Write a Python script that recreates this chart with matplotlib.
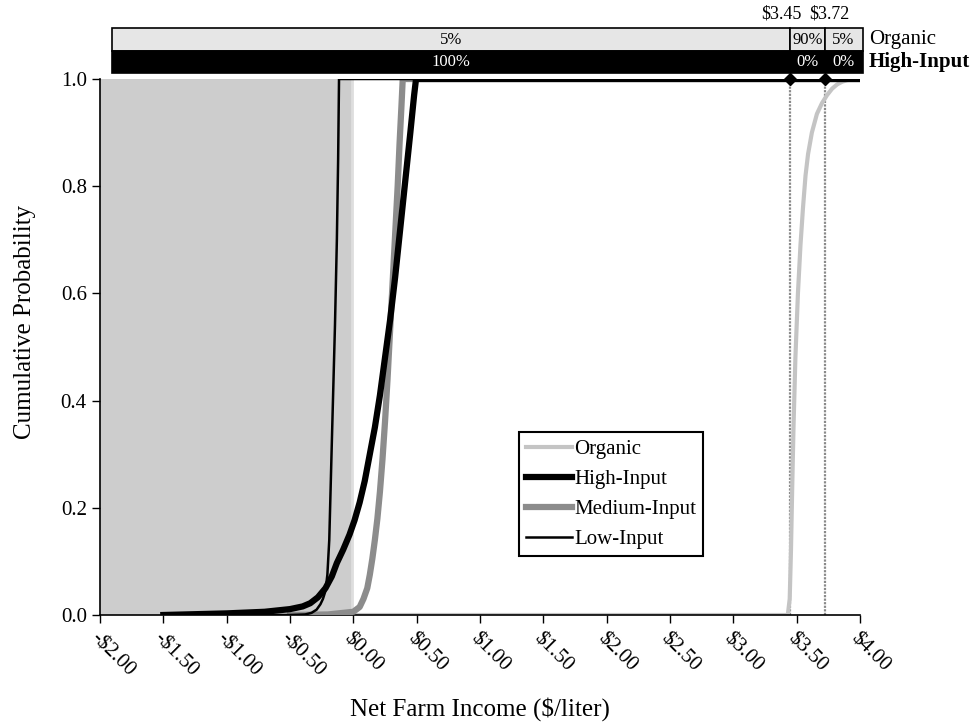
import matplotlib
matplotlib.use("Agg")
import matplotlib.pyplot as plt
from matplotlib.patches import Rectangle
from matplotlib.ticker import FuncFormatter

plt.rcParams['font.family'] = ['Liberation Serif', 'DejaVu Serif']

# cumulative distributions of net farm income ($/liter)
organic_x = [0.0, 3.43, 3.445, 3.455, 3.465, 3.475, 3.49, 3.51, 3.53, 3.55, 3.57, 3.59, 3.62, 3.66,
             3.70, 3.74, 3.78, 3.82, 3.86, 3.90, 4.0]
organic_y = [0.0, 0.0, 0.03, 0.12, 0.24, 0.35, 0.48, 0.6, 0.69, 0.76, 0.82, 0.86, 0.9, 0.935,
             0.955, 0.97, 0.982, 0.99, 0.995, 0.998, 1.0]

high_x = [-1.5, -1.0, -0.7, -0.5, -0.4, -0.34, -0.28, -0.22, -0.17, -0.13, -0.08, -0.03, 0.01, 0.05,
          0.09, 0.13, 0.17, 0.21, 0.25, 0.29, 0.33, 0.37, 0.41, 0.45, 0.48, 0.495, 4.0]
high_y = [0.0, 0.003, 0.006, 0.011, 0.016, 0.022, 0.033, 0.05, 0.072, 0.097, 0.122, 0.15, 0.177, 0.21,
          0.25, 0.3, 0.35, 0.41, 0.48, 0.55, 0.63, 0.72, 0.81, 0.9, 0.97, 1.0, 1.0]

medium_x = [-0.5, -0.2, 0.0, 0.05, 0.08, 0.11, 0.13, 0.15, 0.17, 0.19, 0.21, 0.23, 0.25, 0.27, 0.29,
            0.31, 0.33, 0.35, 0.365, 0.38, 0.39, 4.0]
medium_y = [0.0, 0.001, 0.006, 0.015, 0.03, 0.05, 0.075, 0.105, 0.14, 0.18, 0.23, 0.29, 0.36, 0.44, 0.53,
            0.62, 0.71, 0.8, 0.88, 0.95, 1.0, 1.0]

low_x = [-1.5, -0.5, -0.38, -0.33, -0.29, -0.26, -0.24, -0.22, -0.205, -0.19, -0.17, -0.145, -0.13,
         -0.12, -0.113, 4.0]
low_y = [0.0, 0.0, 0.001, 0.004, 0.01, 0.02, 0.03, 0.045, 0.075, 0.14, 0.32, 0.54, 0.7, 0.85, 1.0, 1.0]

# stoplight cut-offs and probabilities
cuts = [3.45, 3.72]
organic_pct = ["5%", "90%", "5%"]
high_pct = ["100%", "0%", "0%"]

xticks = [-2.0, -1.5, -1.0, -0.5, 0.0, 0.5, 1.0, 1.5, 2.0, 2.5, 3.0, 3.5, 4.0]
yticks = [0.0, 0.2, 0.4, 0.6, 0.8, 1.0]

fig = plt.figure(figsize=(9.73, 7.22), dpi=100)
ax = fig.add_axes([100/973, 1-615/722, 760/973, 536/722])

# shaded loss region
ax.add_patch(Rectangle((-2.0, 0.0), 2.0, 1.0, facecolor='#cdcdcd', edgecolor='none', zorder=0))
ax.axvline(-0.01, 0, 1, color='#dedede', lw=2, zorder=0.5)

for c in cuts:
    ax.plot([c, c], [0, 1], color='#8a8a8a', lw=1.6, ls=(0, (1, 0.6)), zorder=1)

l_org, = ax.plot(organic_x, organic_y, color='#c4c4c4', lw=3, zorder=2, label='Organic')
l_med, = ax.plot(medium_x, medium_y, color='#8c8c8c', lw=4.5, zorder=3, label='Medium-Input')
l_high, = ax.plot(high_x, high_y, color='black', lw=4.5, zorder=4, label='High-Input')
l_low, = ax.plot(low_x, low_y, color='black', lw=1.8, zorder=5, label='Low-Input')
ax.plot(cuts, [1.0, 1.0], ls='none', marker='D', ms=6, color='black', zorder=6, clip_on=False)

ax.set_xlim(-2.0, 4.0)
ax.set_ylim(0.0, 1.0)
ax.set_xticks(xticks)
ax.set_yticks(yticks)
ax.xaxis.set_major_formatter(FuncFormatter(lambda v, p: ('-$%.2f' % -v) if v < 0 else ('$%.2f' % v)))
ax.yaxis.set_major_formatter(FuncFormatter(lambda v, p: '%.1f' % v))
ax.tick_params(axis='y', labelsize=15, direction='out', length=6, width=1)
ax.tick_params(axis='x', labelsize=15, direction='out', length=6, width=1, pad=4)
for lab in ax.get_xticklabels():
    lab.set_rotation(-45)
    lab.set_ha('left')
    lab.set_va('top')
    lab.set_rotation_mode('anchor')
ax.spines['top'].set_visible(False)
ax.spines['right'].set_visible(False)
ax.spines['left'].set_linewidth(1.2)
ax.spines['bottom'].set_linewidth(1.2)
ax.set_ylabel('Cumulative Probability', fontsize=18)
ax.yaxis.set_label_coords(-0.084, 0.547)
ax.set_xlabel('Net Farm Income ($/liter)', fontsize=18, labelpad=12)

# stoplight bars above the plot
bar_l, bar_r = -1.905, 4.02
edges = [bar_l] + cuts + [bar_r]
for i in range(3):
    ax.add_patch(Rectangle((edges[i], 1.052), edges[i+1]-edges[i], 0.043, facecolor='#e6e6e6',
                           edgecolor='black', lw=1.2, clip_on=False, zorder=7))
    ax.text((edges[i]+edges[i+1])/2, 1.073, organic_pct[i], ha='center', va='center', fontsize=12, zorder=8)
ax.add_patch(Rectangle((bar_l, 1.011), bar_r-bar_l, 0.041, facecolor='black', edgecolor='black',
                       lw=1.2, clip_on=False, zorder=7))
for i in range(3):
    ax.text((edges[i]+edges[i+1])/2, 1.032, high_pct[i], ha='center', va='center', fontsize=12,
            color='white', zorder=8)
ax.text(4.07, 1.073, 'Organic', ha='left', va='center', fontsize=15)
ax.text(4.07, 1.032, 'High-Input', ha='left', va='center', fontsize=15, fontweight='bold')
ax.text(cuts[0]-0.07, 1.121, '$%.2f' % cuts[0], ha='center', va='center', fontsize=13)
ax.text(cuts[1]+0.04, 1.121, '$%.2f' % cuts[1], ha='center', va='center', fontsize=13)

leg = ax.legend(handles=[l_org, l_high, l_med, l_low], loc='upper left', bbox_to_anchor=(0.551, 0.341),
                borderaxespad=0, fontsize=15, fancybox=False, framealpha=1, edgecolor='black',
                handlelength=2.2, handletextpad=0.1, labelspacing=0.5, borderpad=0.35)
leg.get_frame().set_linewidth(1.5)

fig.savefig('out.png', dpi=100)
